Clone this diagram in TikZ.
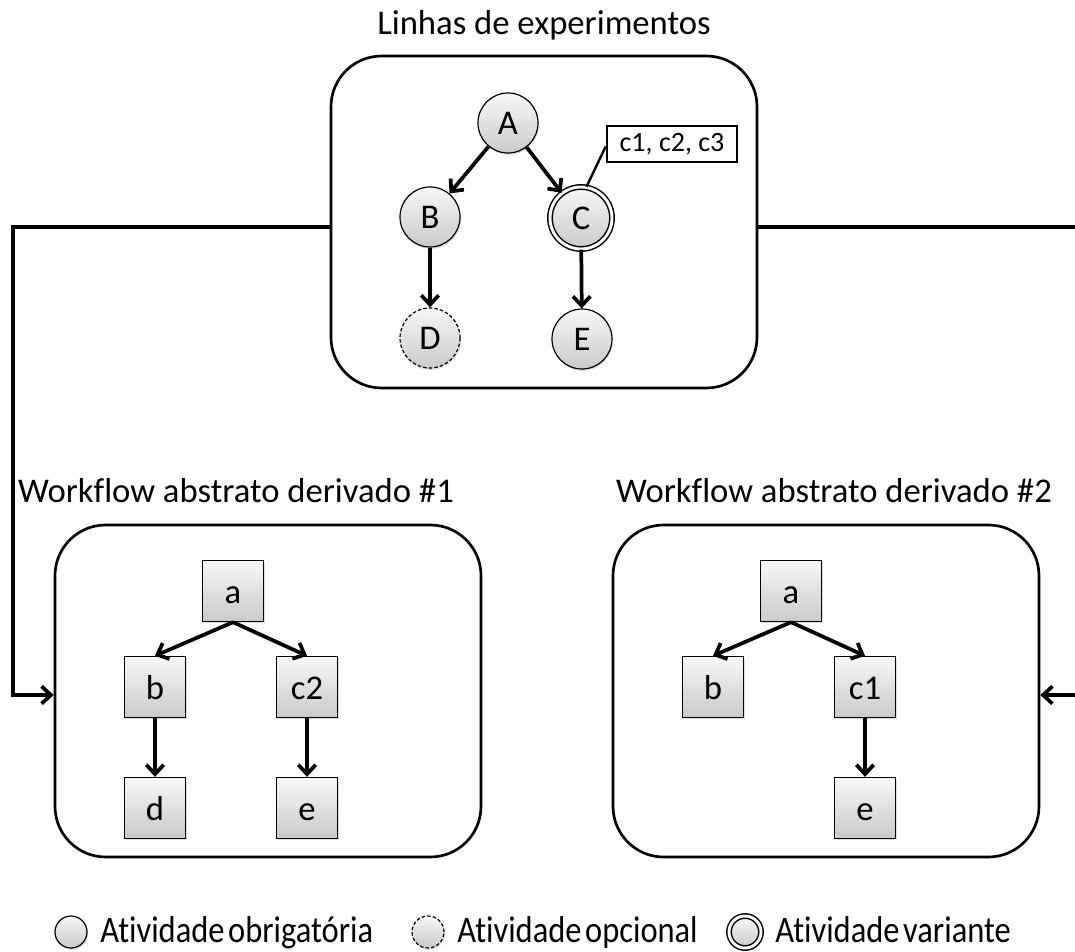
\documentclass[tikz,border=0pt]{standalone}
\usepackage{fontspec}
\setmainfont{Carlito}[Ligatures=NoCommon]
\newfontfamily\legendfont[Ligatures=NoCommon,WordSpace=0.5,FakeStretch=0.87]{Carlito}
\usetikzlibrary{arrows.meta,shadows}

\begin{document}
\begin{tikzpicture}[x=0.75pt,y=-0.75pt,
  panel/.style={draw,line width=2pt,rounded corners=38pt,
    minimum width=319.5pt,minimum height=249pt,inner sep=0pt},
  title/.style={font=\fontsize{26}{30}\selectfont,anchor=base,inner sep=0pt},
  grayfill/.style={top color=gray!6,bottom color=gray!42,
    drop shadow={opacity=0.25,shadow xshift=0.8pt,shadow yshift=-1.4pt}},
  labeltext/.style={font=\fontsize{26}{28}\selectfont,
    text height=18.5pt,text depth=0.5pt},
  act/.style={circle,draw,line width=0.9pt,minimum size=45pt,inner sep=0pt,
    grayfill,labeltext},
  optional/.style={act,dash pattern=on 2.6pt off 1.6pt},
  variant/.style={act,double,line width=1.1pt,double distance=2.2pt,
    minimum size=46.5pt},
  task/.style={rectangle,draw,line width=1pt,minimum size=45.75pt,
    inner sep=0pt,grayfill,labeltext},
  note/.style={rectangle,draw,line width=1.6pt,fill=white,minimum width=98pt,
    minimum height=27pt,inner sep=0pt,font=\fontsize{21}{23}\selectfont},
  tip/.style={-{Straight Barb[length=7pt,width=13pt]}},
  flow/.style={line width=2.8pt,tip},
  link/.style={line width=2.8pt,tip},
  legendtext/.style={font=\legendfont\fontsize{28}{30}\selectfont,
    anchor=base west,inner sep=0pt},
]
\useasboundingbox (0,0) rectangle (1075,952);
\clip (0,0) rectangle (1075,952);

% experiment line
\node[title] (ttop) at (544,35) {Linhas de experimentos};
\node[panel] (top) at (544,222) {};
\node[act] (A) at (508,123) {A};
\node[act] (B) at (430,217) {B};
\node[variant] (C) at (581,218) {C};
\node[optional] (D) at (430,338) {D};
\node[act] (E) at (582,339) {E};
\node[note] (nt) at (672,144) {c1, c2, c3};
\draw[line width=1.8pt] ([yshift=-2pt]nt.west) -- (C.80);
\draw[flow] (A) -- (B);
\draw[flow] (A) -- (C);
\draw[flow] (B) -- (D);
\draw[flow] (C) -- (E);

% derived workflow 1
\node[title] (t1) at (236,502) {Workflow abstrato derivado \#1};
\node[panel] (wf1) at (268,691) {};
\node[task] (a1) at (233,591) {a};
\node[task] (b1) at (155,687) {b};
\node[task] (c21) at (307,687) {c2};
\node[task] (d1) at (155,808) {d};
\node[task] (e1) at (307,808) {e};
\draw[flow] (a1.south) -- (b1.north);
\draw[flow] (a1.south) -- (c21.north);
\draw[flow] (b1) -- (d1);
\draw[flow] (c21) -- (e1);

% derived workflow 2
\node[title] (t2) at (834,502) {Workflow abstrato derivado \#2};
\node[panel] (wf2) at (826,691) {};
\node[task] (a2) at (791,591) {a};
\node[task] (b2) at (713,687) {b};
\node[task] (c12) at (865,687) {c1};
\node[task] (e2) at (865,808) {e};
\draw[flow] (a2.south) -- (b2.north);
\draw[flow] (a2.south) -- (c12.north);
\draw[flow] (c12) -- (e2);

% derivation links
\coordinate (l1) at (13,227);
\coordinate (l2) at (13,695);
\coordinate (r1) at (1090,227);
\coordinate (r2) at (1090,695);
\draw[link] (top.west |- l1) -- (l1) -- (l2) -- (wf1.west |- l2);
\draw[link] (top.east |- r1) -- (r1) -- (r2) -- (wf2.east |- r2);

% legend
\node[act,minimum size=24pt] (k1) at (71,932) {};
\node[legendtext] (k1t) at (100,942) {Atividade obrigatória};
\node[optional,minimum size=24pt] (k2) at (428,932) {};
\node[legendtext] (k2t) at (457,942) {Atividade opcional};
\node[variant,minimum size=24pt] (k3) at (745,932) {};
\node[legendtext] (k3t) at (775,942) {Atividade variante};
\end{tikzpicture}
\end{document}
